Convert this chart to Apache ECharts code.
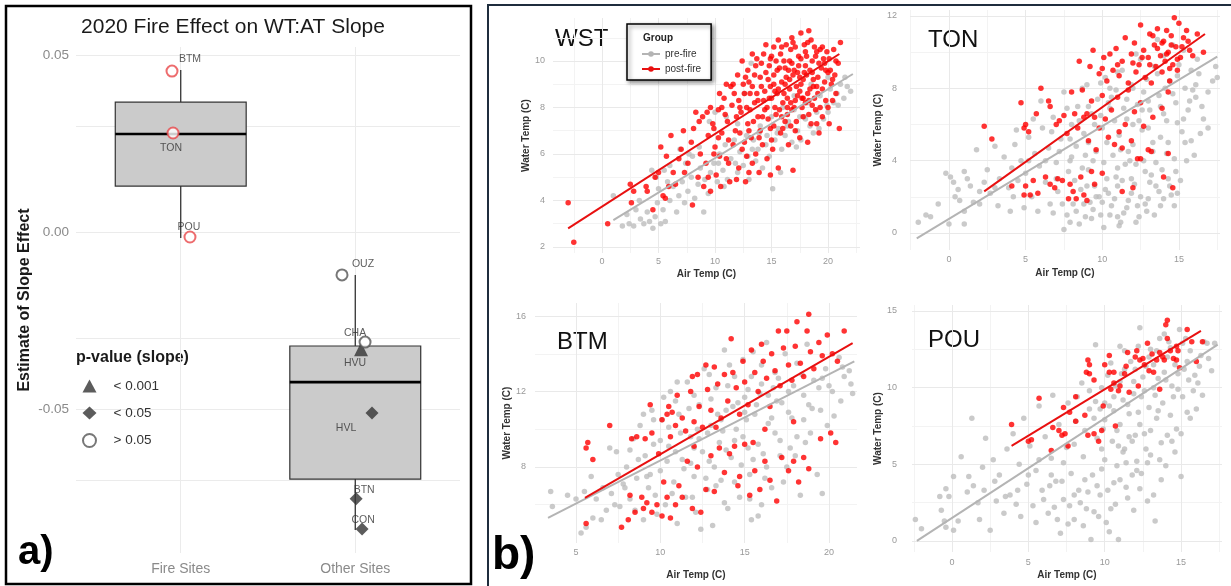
<!DOCTYPE html>
<html>
<head>
<meta charset="utf-8">
<title>2020 Fire Effect on WT:AT Slope</title>
<script src="https://cdn.jsdelivr.net/npm/echarts@6/dist/echarts.min.js"></script>
<style>
  html, body { margin: 0; padding: 0; background: #fff; }
  #main { width: 1231px; height: 586px; }
</style>
</head>
<body>
<div id="main"></div>
<script>
// ---------- a) slope effect per site ----------
const siteNames = ['BTM', 'TON', 'POU', 'OUZ', 'CHA', 'HVU', 'HVL', 'BTN', 'CON'];
const siteFire = [true, true, true, false, false, false, false, false, false];
const siteX = [0.950, 0.956, 1.053, 1.924, 2.056, 2.033, 2.096, 2.005, 2.039]; // jittered group position
const siteSlope = [0.0455, 0.0280, -0.0014, -0.0121, -0.0311, -0.0331, -0.0511, -0.0754, -0.0839];
const siteP = ['> 0.05', '> 0.05', '> 0.05', '> 0.05', '> 0.05', '< 0.001', '< 0.05', '< 0.05', '< 0.05'];

const groupNames = ['Fire Sites', 'Other Sites'];
const boxLow = [-0.0017, -0.0842];
const boxQ1 = [0.0130, -0.0698];
const boxMedian = [0.0277, -0.0424];
const boxQ3 = [0.0367, -0.0322];
const boxHigh = [0.0458, -0.0121];

const slopeTicks = [0.05, 0, -0.05];
const slopeGrid = [0.05, 0.025, 0, -0.025, -0.05, -0.075];
const pClasses = ['< 0.001', '< 0.05', '> 0.05'];

// ---------- b) water vs air temperature ----------
const wstPre = [[1.0,4.2],[1.8,2.9],[2.2,3.4],[2.4,3.0],[2.8,2.9],[3.0,3.6],[3.4,3.2],[3.7,3.0],[4.0,3.5],[4.2,3.1],
  [4.5,2.8],[4.7,3.3],[4.9,3.9],[5.2,3.0],[5.4,3.6],[5.6,3.1],[5.0,4.5],[4.4,5.3],[4.8,5.0],[5.5,5.3],
  [6.0,4.0],[6.3,4.6],[6.6,3.5],[6.8,4.2],[7.1,4.8],[7.3,3.9],[7.6,4.4],[7.9,5.0],[8.2,4.1],[8.5,4.7],
  [8.7,5.4],[9.0,3.5],[9.1,4.9],[9.4,4.3],[9.6,5.2],[6.0,5.5],[6.9,6.2],[7.4,5.6],[8.0,5.9],[8.6,6.3],
  [9.9,5.6],[10.2,4.8],[10.4,6.0],[10.7,5.3],[10.9,6.4],[11.1,4.9],[11.4,5.8],[11.7,6.6],[12.0,5.2],[12.2,6.1],
  [12.5,5.5],[12.8,6.8],[13.0,4.9],[13.3,6.2],[13.6,5.7],[13.9,6.9],[14.2,5.4],[14.5,6.4],[14.8,5.9],[15.1,4.5],
  [15.3,6.6],[10.0,7.8],[9.5,7.4],[11.0,7.6],[12.0,7.3],[13.2,9.9],[12.6,8.6],[15.6,7.1],[15.9,6.2],[16.2,6.8],
  [16.5,7.4],[16.8,6.5],[17.0,7.9],[17.3,7.0],[17.6,6.6],[17.9,7.6],[18.2,8.2],[18.4,7.2],[18.7,6.9],[19.0,7.8],
  [19.3,8.5],[19.6,7.5],[19.9,8.1],[20.2,8.8],[20.5,8.2],[20.8,8.6],[21.1,9.0],[21.4,8.4],[21.7,8.9],[22.0,8.7],
  [20.0,9.3],[18.5,9.0],[17.0,8.5],[16.0,8.0],[15.0,7.6],[14.0,7.2],[10.8,4.6],[11.8,5.6],[12.9,5.9],[13.8,6.2],
  [14.6,6.8],[15.5,6.9],[16.4,7.2],[17.2,6.3],[18.0,7.5],[19.2,7.1],[20.0,7.8],[20.9,8.1],[21.5,9.3],[3.3,4.0],
  [5.8,4.8],[7.7,6.0],[10.3,5.6],[15.8,5.2],[17.5,7.6],[13.4,6.6]];
const wstPost = [[-3.0,3.9],[-2.5,2.2],[0.5,3.0],[2.5,4.7],[2.6,3.9],[2.8,4.4],[3.9,4.6],[4.0,4.4],[4.5,3.6],[4.7,5.0],
  [5.0,5.2],[5.2,6.3],[5.4,4.2],[5.6,4.1],[5.7,5.9],[5.9,4.6],[6.1,6.8],[6.3,5.2],[6.5,4.7],[6.8,5.8],
  [7.0,6.2],[7.2,7.0],[7.3,5.2],[7.6,5.6],[7.9,6.5],[8.0,3.8],[8.1,7.1],[8.3,7.8],[8.5,5.0],[8.7,6.0],
  [8.9,7.6],[9.0,4.6],[9.2,5.6],[9.4,6.8],[9.6,4.4],[9.8,7.3],[10.0,6.3],[10.1,5.1],[10.3,7.9],[10.5,4.6],
  [10.6,6.9],[10.8,8.4],[11.0,5.8],[11.1,7.4],[11.3,4.8],[11.4,8.9],[11.6,6.4],[11.8,7.0],[12.0,9.4],[12.1,5.4],
  [12.3,7.8],[12.4,6.2],[12.6,8.6],[12.7,4.8],[12.9,7.3],[13.0,9.1],[13.2,6.7],[13.3,5.6],[13.5,8.2],[13.6,9.8],
  [13.8,7.6],[13.9,5.2],[14.1,8.9],[14.2,6.4],[14.4,7.9],[14.5,9.5],[14.6,5.8],[14.8,8.4],[14.9,7.1],[15.0,10.2],
  [15.1,6.2],[15.2,9.0],[15.4,7.7],[15.5,8.6],[15.6,5.4],[15.7,9.7],[15.8,6.9],[16.0,8.2],[16.1,10.0],[16.2,7.4],
  [16.3,9.3],[16.5,6.4],[16.6,8.8],[16.7,10.5],[16.8,7.9],[16.9,5.3],[17.0,9.6],[17.1,7.0],[17.3,8.5],[17.4,10.2],
  [17.5,6.7],[17.6,9.0],[17.8,7.6],[17.9,10.7],[18.0,8.2],[18.1,9.4],[18.2,6.5],[18.3,11.3],[18.4,8.8],[18.5,7.3],
  [18.6,10.0],[18.7,9.2],[18.9,7.9],[19.0,10.4],[19.1,8.6],[19.2,6.9],[19.4,9.7],[19.5,7.6],[19.6,10.1],[19.8,8.3],
  [20.0,9.5],[20.1,7.3],[20.3,9.0],[20.5,10.5],[20.7,8.6],[21.0,7.1],[21.1,10.8],[20.9,9.9],[19.3,8.0],[18.8,8.4],
  [17.7,8.0],[16.4,8.4],[15.3,8.0],[14.3,8.3],[13.4,7.4],[12.2,6.9],[11.2,6.6],[10.4,5.9],[13.1,8.6],[14.7,9.2],
  [16.9,9.4],[18.0,9.8],[17.2,8.9],[15.9,7.6],[14.0,7.0],[12.8,8.0],[11.5,8.1],[10.9,7.7],[9.9,6.0],[9.3,7.8],
  [8.6,7.4],[15.2,10.6],[16.6,10.0],[19.7,9.1],[18.6,8.1],[17.5,9.3],[16.2,9.0],[14.9,8.9],[12.5,9.0],[12.9,9.6],
  [13.3,8.9],[13.7,8.6],[13.7,10.1],[14.0,9.3],[14.3,10.3],[14.6,8.0],[14.8,9.8],[15.0,8.4],[15.2,9.4],[15.4,10.0],
  [15.6,8.8],[15.8,10.3],[15.9,9.1],[16.1,8.6],[16.3,10.7],[16.5,9.6],[16.7,8.2],[16.8,9.9],[17.0,8.0],[17.1,10.6],
  [17.3,9.5],[17.5,8.7],[17.6,10.1],[17.8,9.2],[18.0,10.4],[18.2,8.6],[18.4,9.6],[18.5,10.9],[18.7,8.9],[18.9,10.2],
  [19.1,9.3],[19.3,10.5],[19.5,8.8],[19.7,9.9],[19.9,10.4],[20.2,9.6],[20.4,8.3],[20.6,9.4],[16.0,7.1],[17.2,7.4],
  [18.3,7.7],[15.0,6.6],[14.2,7.6],[13.0,7.0],[11.9,7.6],[12.6,6.5],[19.0,7.3],[20.0,8.0],[16.4,7.7],[17.8,8.4],
  [13.6,6.0],[14.9,5.1],[11.6,9.0],[10.6,8.0],[9.6,8.0],[12.1,8.3],[11.9,4.9],[13.0,5.2],[12.2,8.0],[12.7,9.3],
  [13.1,7.9],[13.5,9.4],[13.8,8.3],[14.1,9.9],[14.4,8.7],[14.7,7.5],[14.9,10.1],[15.3,8.7],[15.5,9.6],[15.7,7.9],
  [15.9,10.6],[16.2,9.7],[16.4,8.0],[16.6,9.2],[16.9,10.8],[17.1,8.3],[17.4,9.8],[17.7,8.4],[17.9,9.5],[18.1,10.2],
  [18.3,8.3],[18.6,9.5],[18.8,10.6],[19.0,8.9],[19.2,9.9],[19.5,10.6],[19.8,9.6],[20.1,10.1],[20.4,9.2],[20.7,10.0],
  [13.9,6.7],[15.2,7.2],[16.7,7.2],[12.8,5.9],[11.2,5.6],[10.3,6.7],[11.7,8.6],[12.4,10.0],[13.3,10.3],[14.5,10.7],
  [15.6,10.9],[16.8,11.0],[17.6,11.2],[18.2,10.8],[11.0,9.0],[10.4,8.6],[9.9,7.1],[9.4,5.0]];
const wstPreFit = [[1.0,3.15],[22.2,9.44]];
const wstPostFit = [[-3.0,2.8],[21.0,10.3]];

const tonPre = [[-2.0,0.6],[-1.5,1.0],[-1.2,0.9],[-0.7,1.6],[-0.2,3.3],[0.0,0.5],[0.1,3.1],[0.3,2.8],[0.4,2.0],[0.6,2.4],
  [0.7,1.8],[1.0,0.5],[1.0,3.4],[1.2,3.0],[1.4,2.6],[1.6,1.7],[1.8,4.6],[2.0,1.6],[2.3,2.8],[2.5,3.5],
  [2.7,2.2],[3.0,4.8],[3.2,1.5],[3.3,3.0],[3.6,4.2],[3.9,2.5],[4.0,1.2],[4.1,3.6],[4.3,4.9],[4.5,2.9],
  [4.7,4.0],[4.9,1.4],[5.0,3.3],[5.2,5.3],[5.4,2.0],[5.6,4.4],[5.8,1.2],[5.9,3.7],[6.1,5.8],[6.3,2.8],
  [6.5,4.7],[6.6,1.6],[6.8,6.4],[7.0,3.9],[7.1,2.3],[7.3,5.2],[7.5,0.2],[7.5,7.8],[7.7,1.0],[7.8,3.4],
  [8.0,6.0],[8.1,1.6],[8.3,4.8],[8.4,7.0],[8.6,2.4],[8.8,5.5],[8.9,0.9],[9.0,8.2],[9.1,3.5],[9.3,6.6],
  [9.4,1.3],[9.6,4.5],[9.7,7.4],[9.8,2.0],[10.0,5.8],[10.1,0.3],[10.2,8.6],[10.3,3.0],[10.5,6.9],[10.6,1.5],
  [10.7,4.3],[10.9,7.9],[11.0,2.6],[11.1,5.4],[11.2,0.6],[11.3,9.0],[11.5,3.8],[11.6,6.3],[11.7,1.8],[11.9,8.2],
  [12.0,4.9],[12.1,2.7],[12.3,7.1],[12.4,0.9],[12.5,9.6],[12.6,5.7],[12.8,3.4],[12.9,8.5],[13.0,1.9],[13.1,6.8],
  [13.3,4.5],[13.4,9.2],[13.5,2.6],[13.7,7.6],[13.8,5.3],[13.9,3.5],[14.0,9.8],[14.2,6.2],[14.4,8.4],[14.5,2.1],
  [14.7,4.1],[14.8,7.2],[15.0,9.3],[15.2,5.6],[15.4,8.0],[15.6,6.8],[15.8,9.0],[16.0,4.3],[16.1,7.5],[16.3,8.8],
  [16.6,6.3],[16.9,7.8],[17.2,8.4],[17.5,8.6],[16.2,9.6],[15.3,10.1],[14.6,10.4],[13.6,10.7],[12.2,9.9],[11.0,8.9],
  [9.9,8.3],[8.7,8.0],[7.7,6.9],[6.7,5.6],[5.5,6.3],[4.4,5.7],[6.0,7.3],[9.5,6.0],[10.8,6.2],[12.7,7.8],
  [14.1,8.0],[11.8,4.0],[13.2,3.2],[10.4,2.2],[9.2,1.7],[8.2,2.9],[12.9,1.2],[14.3,3.0],[11.4,1.1],[15.1,2.9],
  [15.5,4.0],[14.9,2.2],[7.2,4.5],[7.9,5.2],[8.5,6.2],[8.7,3.6],[9.1,7.0],[9.4,4.0],[9.9,6.5],[10.3,5.0],
  [10.6,7.5],[11.0,3.6],[11.4,6.9],[11.7,4.5],[12.0,8.0],[12.4,6.2],[12.7,4.0],[13.0,7.3],[13.3,5.0],[13.6,8.8],
  [14.0,6.6],[14.3,5.0],[14.6,7.7],[14.9,8.7],[15.3,6.3],[15.7,7.3],[16.1,8.2],[16.5,7.0],[13.8,1.5],[12.3,1.5],
  [11.0,0.9],[10.0,1.7],[9.5,2.6],[10.9,3.1],[11.9,3.0],[13.5,3.9],[14.8,3.4],[15.8,5.1],[16.9,5.8],[17.4,9.2],
  [12.0,6.0],[10.5,8.0],[7.4,1.6],[7.9,0.6],[8.3,1.2],[8.5,0.5],[8.8,1.6],[9.0,2.6],[9.3,0.8],[9.6,2.0],
  [9.9,1.0],[10.2,2.4],[10.5,1.0],[10.8,1.9],[11.1,0.4],[11.3,2.9],[11.6,1.4],[11.9,2.2],[12.2,0.6],[12.5,2.0],
  [12.8,1.6],[13.1,2.8],[13.4,1.0],[13.7,2.3],[14.0,1.9],[14.4,2.6],[14.7,1.5],[6.8,1.1],[7.0,3.0],[8.0,4.2],
  [8.9,4.3],[10.1,3.9],[11.2,4.6],[12.2,3.8],[13.0,5.8],[14.2,4.4],[15.4,5.0],[16.4,5.5],[15.9,7.9],[14.9,6.1],
  [13.8,7.0],[12.6,6.8],[11.6,7.4],[10.4,7.2],[9.1,5.0],[7.9,4.0],[6.3,4.0],[5.2,4.0],[4.2,2.0],[3.0,2.5],
  [2.0,2.3],[1.0,1.2]];
const tonPost = [[9.4,10.1],[9.8,8.8],[10.1,9.7],[10.3,8.4],[10.5,9.9],[10.7,9.0],[10.9,10.2],[11.1,8.7],[11.3,9.5],[11.5,10.8],
  [11.7,8.3],[11.9,9.9],[12.1,10.5],[12.2,8.9],[12.4,9.3],[12.5,11.5],[12.7,10.1],[12.8,8.6],[13.0,9.7],[13.1,11.0],
  [13.2,8.3],[13.4,10.4],[13.5,9.2],[13.6,11.3],[13.8,9.8],[13.9,8.9],[14.0,10.6],[14.1,9.5],[14.2,11.2],[14.3,10.0],
  [14.4,8.4],[14.5,10.9],[14.6,9.3],[14.7,11.9],[14.8,10.3],[15.0,11.6],[15.1,9.7],[15.3,10.8],[15.5,11.2],[15.7,10.1],
  [15.9,9.8],[16.2,11.0],[16.6,10.0],[13.3,10.9],[12.0,9.4],[11.0,9.3],[10.0,9.1],[8.5,9.5],[9.2,9.2],[14.9,9.0],
  [4.7,7.2],[6.0,8.0],[6.5,7.3],[6.6,7.0],[7.0,6.0],[7.2,6.2],[7.5,6.5],[7.7,5.5],[8.0,7.8],[8.2,6.6],
  [8.4,5.8],[8.7,7.9],[8.8,6.4],[9.0,6.6],[9.1,5.1],[9.3,7.3],[9.5,6.4],[9.6,4.6],[9.8,5.8],[10.0,7.6],
  [10.2,6.3],[10.4,5.3],[10.6,6.8],[10.8,4.9],[11.0,7.5],[11.1,5.6],[11.3,4.7],[11.5,6.0],[11.7,7.9],[11.9,5.1],
  [12.1,6.7],[12.3,4.1],[12.5,7.2],[12.7,5.9],[13.0,4.6],[13.3,6.4],[13.9,6.9],[14.3,7.8],[5.0,6.0],[5.2,5.6],
  [5.7,6.6],[4.9,5.8],[2.3,5.9],[2.8,5.2],[4.1,2.6],[4.9,2.1],[5.0,2.6],[5.3,2.1],[5.5,2.9],[5.8,2.2],
  [6.3,3.1],[6.6,2.7],[6.9,2.5],[7.1,3.0],[7.4,2.9],[7.8,1.9],[7.9,2.7],[8.1,2.3],[8.3,1.9],[8.6,3.1],
  [8.8,2.1],[9.0,1.8],[9.3,3.4],[9.5,2.7],[11.3,2.3],[12.0,2.5],[12.5,4.1],[13.2,4.5],[14.0,3.1],[14.3,4.4],
  [14.6,2.5],[10.0,3.3],[13.6,10.2],[14.2,9.9],[14.5,10.4],[13.9,10.5],[15.2,10.3],[14.9,9.6],[13.1,9.3],[12.6,9.7],
  [14.4,9.1],[15.6,10.6]];
const tonPreFit = [[-2.1,-0.3],[17.5,9.75]];
const tonPostFit = [[2.3,2.3],[16.7,11.0]];

const btmPre = [[3.5,6.7],[3.6,5.9],[4.5,6.5],[5.0,6.3],[5.3,4.5],[5.5,6.7],[5.6,4.8],[5.9,7.5],[6.2,6.3],[6.5,5.2],
  [6.8,5.7],[7.0,9.0],[7.1,6.6],[7.4,8.8],[7.6,5.9],[7.8,7.1],[8.0,8.0],[8.2,6.3],[8.4,9.5],[8.6,7.4],
  [8.8,10.2],[9.0,5.2],[9.1,8.6],[9.3,6.9],[9.5,11.0],[9.6,9.2],[9.8,5.5],[10.0,7.8],[10.1,10.5],[10.3,6.0],
  [10.5,9.1],[10.6,12.0],[10.8,7.2],[11.0,5.0],[11.1,10.8],[11.3,8.4],[11.5,6.4],[11.6,12.5],[11.8,9.6],[12.0,7.5],
  [12.1,5.6],[12.3,11.3],[12.5,8.8],[12.6,13.2],[12.8,6.8],[13.0,10.2],[13.1,4.9],[13.3,12.2],[13.5,9.3],[13.6,7.3],
  [13.8,14.2],[13.9,11.0],[14.0,5.8],[14.2,8.5],[14.4,12.8],[14.5,10.0],[14.7,6.4],[14.9,13.7],[15.0,11.7],[15.2,9.0],
  [15.3,7.6],[15.5,14.1],[15.6,10.8],[15.8,5.4],[16.0,12.4],[16.1,8.7],[16.3,14.6],[16.4,10.3],[16.6,6.9],[16.8,13.0],
  [16.9,11.5],[17.1,9.4],[17.3,7.2],[17.4,14.0],[17.6,12.0],[17.8,10.6],[18.0,8.6],[18.1,13.5],[18.3,6.5],[18.5,11.8],
  [18.7,14.5],[18.9,9.8],[19.1,12.6],[19.3,7.6],[19.5,11.0],[19.6,6.6],[19.8,13.2],[20.0,12.3],[20.3,10.7],[20.6,13.8],
  [20.9,12.8],[21.2,13.1],[21.4,11.9],[10.9,11.5],[12.2,10.0],[13.4,10.8],[14.6,11.4],[15.9,11.9],[17.0,12.7],[18.4,12.9],
  [14.1,13.4],[15.4,12.8],[16.7,12.2],[11.7,11.1],[13.7,9.9],[15.1,10.5],[12.9,12.9],[14.8,8.1],[16.2,7.4],[11.2,9.8],
  [10.2,11.7],[9.0,10.8],[12.0,9.0],[12.8,9.8],[13.6,10.5],[14.3,11.2],[15.0,10.9],[15.7,11.3],[16.4,11.8],[17.2,11.4],
  [17.9,12.3],[18.8,11.3],[19.6,12.7],[14.4,9.4],[15.5,8.4],[16.8,9.8],[17.7,9.0],[13.2,8.0],[12.7,7.4],[11.9,6.4],
  [10.9,8.8],[10.0,9.4],[9.4,7.6],[8.7,8.4],[16.0,6.0],[17.5,8.0],[18.6,9.3],[19.9,10.2],[20.7,11.5],[12.4,4.7],
  [13.8,6.1],[15.4,5.2],[6.0,5.3],[6.6,6.9],[7.3,6.0],[7.9,6.9],[8.5,5.7],[9.2,7.5],[9.7,6.5],[10.4,8.3],
  [10.7,6.6],[11.4,7.9],[11.8,8.2],[12.3,9.5],[12.9,8.3],[13.3,7.0],[13.9,8.9],[14.4,7.2],[14.9,9.6],[15.3,6.3],
  [15.8,9.2],[16.3,8.0],[16.6,10.6],[17.1,8.6],[17.6,10.9],[18.1,9.6],[18.5,10.5],[19.0,11.1],[19.4,12.2],[20.2,12.0],
  [20.8,13.3],[21.3,12.4],[16.0,13.4],[15.2,12.1],[14.0,12.3],[13.0,11.6],[12.0,11.8],[11.0,12.5],[10.5,10.1],[9.6,10.5],
  [8.2,8.9],[7.5,7.6]];
const btmPost = [[7.0,10.2],[9.1,9.5],[9.4,11.3],[9.5,9.8],[9.9,8.7],[10.1,10.5],[10.4,10.8],[10.5,11.2],[10.6,9.6],[10.9,10.2],
  [11.0,11.8],[11.3,10.6],[11.5,9.9],[11.8,12.0],[12.0,10.4],[12.2,12.9],[12.3,11.2],[12.5,10.1],[12.7,13.4],[12.8,12.1],
  [13.0,11.0],[13.2,13.3],[13.4,12.4],[13.6,10.6],[13.8,12.9],[14.0,11.5],[14.2,14.8],[14.3,13.0],[14.5,12.2],[14.7,10.8],
  [14.9,13.6],[15.0,12.5],[15.2,11.3],[15.4,14.2],[15.6,13.0],[15.8,12.0],[16.0,14.5],[16.1,13.6],[16.3,12.7],[16.5,11.2],
  [16.6,14.0],[16.8,13.1],[17.0,15.2],[17.1,12.3],[17.3,14.3],[17.5,15.2],[17.6,13.4],[17.8,12.6],[18.0,14.4],[18.1,15.7],
  [18.3,13.5],[18.5,12.8],[18.7,15.2],[18.8,16.1],[18.9,14.1],[19.1,13.2],[19.4,14.6],[19.6,13.9],[19.9,15.0],[20.2,14.0],
  [20.5,13.6],[20.9,15.2],[17.9,10.4],[16.2,10.0],[15.5,9.3],[19.5,9.5],[20.1,9.8],[20.4,9.3],[8.6,9.6],[11.9,12.8],
  [13.3,10.1],[10.7,10.9],[5.6,5.0],[5.6,9.0],[5.7,9.3],[6.0,8.4],[7.7,4.8],[8.1,5.2],[8.2,6.5],[8.3,9.5],
  [8.5,5.6],[8.9,6.4],[9.0,5.8],[9.2,6.1],[9.5,5.6],[9.8,6.0],[10.1,5.4],[10.4,6.4],[10.6,5.3],[10.9,6.0],
  [11.1,7.0],[11.3,6.4],[11.6,8.3],[11.9,5.8],[12.2,8.0],[12.4,5.6],[12.7,6.8],[13.0,8.6],[13.2,6.7],[13.5,9.0],
  [13.8,7.7],[14.1,8.7],[14.4,9.1],[14.7,7.5],[15.0,9.2],[15.3,6.5],[15.6,7.8],[15.9,6.8],[16.2,8.3],[16.5,7.3],
  [16.9,6.2],[17.2,8.5],[17.6,7.8],[17.9,8.3],[18.2,7.2],[18.5,8.5],[18.8,7.9],[14.6,7.0],[12.0,9.1],[10.2,7.2]];
const btmPreFit = [[3.34,5.3],[21.5,13.6]];
const btmPostFit = [[5.53,6.36],[21.4,14.56]];

const pouPre = [[-2.4,1.4],[-2.0,0.8],[-0.8,2.9],[-0.7,2.0],[-0.5,1.3],[-0.4,0.9],[-0.4,3.4],[-0.2,2.9],[0.1,4.2],[0.1,0.7],
  [0.4,1.3],[0.6,5.5],[1.0,3.2],[1.1,4.2],[1.3,8.0],[1.4,3.6],[1.7,2.5],[1.8,1.4],[2.0,4.8],[2.1,3.3],
  [2.2,6.7],[2.5,0.7],[2.7,5.3],[2.9,2.6],[3.1,4.3],[3.4,1.8],[3.6,6.0],[3.8,3.0],[4.0,7.0],[4.2,2.4],
  [4.4,5.0],[4.5,1.6],[4.7,8.0],[4.9,3.7],[5.1,6.2],[5.3,2.3],[5.5,4.6],[5.7,8.8],[5.9,3.3],[6.1,6.8],
  [6.3,1.8],[6.5,5.4],[6.6,9.5],[6.8,3.9],[7.0,7.6],[7.1,0.5],[7.3,2.7],[7.5,6.1],[7.6,9.0],[7.8,4.4],
  [8.0,1.4],[8.1,7.8],[8.3,3.3],[8.5,10.3],[8.6,5.5],[8.8,2.1],[9.0,8.6],[9.1,0.1],[9.2,4.3],[9.4,12.8],
  [9.5,6.7],[9.7,3.0],[9.8,10.0],[10.0,5.3],[10.1,1.2],[10.3,8.8],[10.4,11.6],[10.6,3.8],[10.8,7.2],[10.9,0.1],
  [11.0,10.4],[11.2,5.8],[11.3,12.4],[11.5,2.8],[11.6,8.3],[11.8,6.5],[12.0,11.2],[12.1,4.6],[12.3,13.9],[12.4,9.4],
  [12.6,7.0],[12.8,2.6],[12.9,12.0],[13.0,5.6],[13.2,10.0],[13.4,8.0],[13.6,13.2],[13.7,4.0],[13.9,11.0],[14.1,6.9],
  [14.3,12.6],[14.5,9.4],[14.7,7.3],[14.9,13.8],[15.0,4.2],[15.2,11.2],[15.4,8.4],[15.6,12.4],[15.8,9.8],[16.0,8.6],
  [16.2,11.4],[16.5,13.0],[16.8,11.9],[17.2,12.9],[14.0,10.5],[12.5,10.7],[11.2,9.2],[10.0,9.0],[9.3,8.0],[8.2,9.4],
  [13.0,12.5],[14.6,11.5],[15.5,10.5],[11.7,11.7],[10.7,10.1],[13.3,9.5],[12.2,8.4],[11.0,7.6],[12.7,6.0],[9.8,6.0],
  [8.7,4.0],[10.4,2.1],[11.4,3.5],[7.7,2.3],[6.9,1.4],[9.6,1.6],[9.0,9.8],[9.7,8.6],[10.2,10.8],[10.6,9.4],
  [11.1,10.9],[11.5,8.9],[11.9,10.4],[12.2,12.7],[12.6,9.8],[12.9,8.7],[13.2,11.5],[13.5,10.6],[13.8,9.0],[14.1,12.0],
  [14.4,10.1],[14.8,10.9],[15.1,12.9],[15.4,11.7],[15.9,10.8],[16.3,12.1],[13.0,7.2],[12.0,6.9],[11.3,6.0],[10.5,6.5],
  [9.9,7.3],[13.7,6.4],[14.3,8.2],[15.1,9.4],[11.8,4.3],[12.3,3.4],[10.8,4.9],[9.5,3.6],[10.3,0.6],[8.6,1.0],
  [13.3,1.3],[12.1,5.2],[14.6,5.8],[16.4,9.5],[13.9,13.5],[11.0,12.7],[5.5,1.2],[6.0,2.7],[6.4,3.6],[6.7,2.2],
  [7.2,3.9],[7.6,1.1],[8.0,3.0],[8.4,2.5],[8.9,3.2],[9.3,1.9],[9.8,4.7],[10.2,3.3],[10.7,2.4],[11.0,4.0],
  [11.4,5.1],[11.9,2.0],[12.4,4.4],[12.8,5.1],[13.2,3.0],[13.6,5.3],[14.0,4.9],[14.4,6.5],[15.0,7.0],[15.6,8.0],
  [16.1,10.3],[16.7,12.9],[17.0,11.1],[15.3,13.2],[14.2,13.0],[13.4,12.4],[12.7,11.4],[11.9,9.6],[11.3,11.2],[10.6,8.5],
  [10.0,7.9],[9.4,9.1],[8.7,7.2],[8.0,6.3],[7.3,5.1],[6.5,4.3],[5.7,5.3],[5.0,4.3],[4.3,3.3],[3.5,2.9],
  [2.8,3.9],[13.5,8.5],[14.8,9.9],[12.3,7.6],[11.6,6.8],[10.9,6.2]];
const pouPost = [[3.9,7.6],[5.0,6.5],[5.2,6.6],[5.7,9.3],[6.5,5.9],[6.6,7.4],[7.0,7.2],[7.2,6.9],[7.3,8.7],[7.4,7.0],
  [7.6,6.2],[7.7,8.4],[8.1,9.4],[8.1,7.8],[8.7,8.2],[8.8,11.0],[8.9,11.8],[8.9,6.9],[9.0,11.5],[9.0,10.9],
  [9.3,10.5],[9.3,7.0],[9.6,6.5],[9.8,7.2],[9.9,8.8],[10.0,11.5],[10.3,12.1],[10.3,11.0],[10.6,11.0],[10.6,10.3],
  [10.7,7.5],[10.9,9.8],[11.0,10.1],[11.3,10.9],[11.4,11.4],[11.5,12.3],[11.6,9.7],[12.1,12.4],[12.2,10.1],[12.3,11.8],
  [12.5,11.9],[12.6,11.5],[12.8,12.9],[12.9,11.1],[13.1,12.2],[13.2,11.0],[13.4,11.8],[13.6,12.3],[13.6,9.9],[13.8,12.0],
  [13.9,11.8],[14.0,14.1],[14.1,14.4],[14.1,13.2],[14.3,12.4],[14.5,11.9],[14.7,11.8],[14.7,12.7],[14.8,12.4],[14.9,11.3],
  [15.4,13.8],[15.7,13.0],[16.4,13.0],[16.0,11.7],[12.0,12.0],[10.4,9.9]];
const pouPreFit = [[-2.3,0.0],[17.4,12.8]];
const pouPostFit = [[3.9,6.2],[16.3,13.7]];

// tick labels (major) and the extra minor grid lines for each temperature panel
const wstXTicks = [0, 5, 10, 15, 20], wstXMinor = [-2.5, 2.5, 7.5, 12.5, 17.5, 22.5];
const wstYTicks = [2, 4, 6, 8, 10], wstYMinor = [3, 5, 7, 9, 11];
const tonXTicks = [0, 5, 10, 15], tonXMinor = [-2.5, 2.5, 7.5, 12.5, 17.5];
const tonYTicks = [0, 4, 8, 12], tonYMinor = [2, 6, 10];
const btmXTicks = [5, 10, 15, 20], btmXMinor = [7.5, 12.5, 17.5];
const btmYTicks = [8, 12, 16], btmYMinor = [6, 10, 14];
const pouXTicks = [0, 5, 10, 15], pouXMinor = [-2.5, 2.5, 7.5, 12.5, 17.5];
const pouYTicks = [0, 5, 10, 15], pouYMinor = [2.5, 7.5, 12.5];

const FONT = 'Liberation Sans';
const chart = echarts.init(document.getElementById('main'));

// layout of the four temperature panels (pixels) and their axis ranges
const panels = [
  { key: 'WST', pre: wstPre, post: wstPost, preFit: wstPreFit, postFit: wstPostFit,
    xt: wstXTicks, xm: wstXMinor, yt: wstYTicks, ym: wstYMinor,
    grid: { left: 553, top: 18, width: 307, height: 235 }, x: [-4.34, 22.83], y: [1.74, 11.85],
    xGap: 16, yGap: 16, xMargin: 4, yMargin: 8, title: [555, 39] },
  { key: 'TON', pre: tonPre, post: tonPost, preFit: tonPreFit, postFit: tonPostFit,
    xt: tonXTicks, xm: tonXMinor, yt: tonYTicks, ym: tonYMinor,
    grid: { left: 910, top: 10, width: 310, height: 240 }, x: [-2.54, 17.68], y: [-0.94, 12.33],
    xGap: 18, yGap: 26, xMargin: 5, yMargin: 13, title: [928, 40] },
  { key: 'BTM', pre: btmPre, post: btmPost, preFit: btmPreFit, postFit: btmPostFit,
    xt: btmXTicks, xm: btmXMinor, yt: btmYTicks, ym: btmYMinor,
    grid: { left: 535, top: 303, width: 322, height: 240 }, x: [2.57, 21.66], y: [3.97, 16.69],
    xGap: 27, yGap: 21, xMargin: 5, yMargin: 9, title: [557, 342] },
  { key: 'POU', pre: pouPre, post: pouPost, preFit: pouPreFit, postFit: pouPostFit,
    xt: pouXTicks, xm: pouXMinor, yt: pouYTicks, ym: pouYMinor,
    grid: { left: 912, top: 305, width: 310, height: 247 }, x: [-2.62, 17.68], y: [-0.72, 15.39],
    xGap: 18, yGap: 28, xMargin: 6, yMargin: 15, title: [928, 340] }
];

// where each site label sits relative to its point (px)
const labelOffset = {
  BTM: [18, -12], TON: [-2, 15], POU: [-1, -10], OUZ: [21, -11], CHA: [-10, -9],
  HVU: [-6, 14], HVL: [-26, 15], BTN: [8, -9], CON: [1, -9]
};
const pSymbol = { '< 0.001': 'triangle', '< 0.05': 'diamond', '> 0.05': 'emptyCircle' };
const pSize = { '< 0.001': 14, '< 0.05': 13, '> 0.05': 11 };

const grids = [{ left: 76, top: 47, width: 384, height: 506 }];
const xAxes = [{
  type: 'value', gridIndex: 0, min: 0.4, max: 2.6,
  axisLine: { show: false }, axisTick: { show: false }, splitLine: { show: false },
  axisLabel: { customValues: [1, 2], formatter: (v) => groupNames[Math.round(v) - 1] || '',
    color: '#8a8a8a', fontSize: 14, margin: 9 }
}];
const yAxes = [{
  type: 'value', gridIndex: 0, min: -0.0907, max: 0.0523,
  name: 'Estimate of Slope Effect', nameLocation: 'middle', nameGap: 43,
  nameTextStyle: { fontSize: 16, fontWeight: 'bold', color: '#1a1a1a' },
  axisLine: { show: false }, axisTick: { show: false }, splitLine: { show: false },
  axisLabel: { customValues: slopeTicks, formatter: (v) => v.toFixed(2), color: '#8a8a8a', fontSize: 13.5, margin: 7 }
}];

const series = [];

// grid lines of panel a), kept under everything else
series.push({
  type: 'line', xAxisIndex: 0, yAxisIndex: 0, data: [], z: 0, silent: true,
  markLine: {
    silent: true, symbol: 'none', label: { show: false }, animation: false, z: 0,
    lineStyle: { color: '#ebebeb', width: 1, type: 'solid' },
    data: [1, 2].map((v) => ({ xAxis: v })).concat(slopeGrid.map((v) => ({ yAxis: v })))
  }
});

function renderBox(params, api) {
  const x = api.value(0);
  const pLow = api.coord([x, api.value(1)]);
  const pQ1 = api.coord([x, api.value(2)]);
  const pMed = api.coord([x, api.value(3)]);
  const pQ3 = api.coord([x, api.value(4)]);
  const pHigh = api.coord([x, api.value(5)]);
  const half = api.size([0.75, 0])[0] / 2;
  const whisker = { stroke: '#333', lineWidth: 1.3 };
  return {
    type: 'group',
    children: [
      { type: 'line', shape: { x1: pLow[0], y1: pLow[1], x2: pQ1[0], y2: pQ1[1] }, style: whisker },
      { type: 'line', shape: { x1: pQ3[0], y1: pQ3[1], x2: pHigh[0], y2: pHigh[1] }, style: whisker },
      { type: 'rect', shape: { x: pQ3[0] - half, y: pQ3[1], width: half * 2, height: pQ1[1] - pQ3[1] },
        style: { fill: '#cbcbcb', stroke: '#333', lineWidth: 1.2 } },
      { type: 'line', shape: { x1: pMed[0] - half, y1: pMed[1], x2: pMed[0] + half, y2: pMed[1] },
        style: { stroke: '#000', lineWidth: 2.6 } }
    ]
  };
}

series.push({
  type: 'custom', name: 'box', xAxisIndex: 0, yAxisIndex: 0, z: 2, silent: true,
  renderItem: renderBox,
  encode: { x: 0, y: [1, 2, 3, 4, 5] },
  data: groupNames.map((g, i) => [i + 1, boxLow[i], boxQ1[i], boxMedian[i], boxQ3[i], boxHigh[i]])
});

pClasses.forEach((pc) => {
  const items = [];
  siteNames.forEach((s, i) => {
    if (siteP[i] !== pc) return;
    const item = { name: s, value: [siteX[i], siteSlope[i]], label: { offset: labelOffset[s] } };
    if (siteFire[i]) item.itemStyle = { color: '#e8474a' };
    items.push(item);
  });
  series.push({
    type: 'scatter', name: pc, xAxisIndex: 0, yAxisIndex: 0, z: 5,
    symbol: pSymbol[pc], symbolSize: pSize[pc],
    itemStyle: pc === '> 0.05' ? { color: '#555', borderWidth: 1.3 } : { color: '#333' },
    label: { show: true, position: 'inside', formatter: '{b}', fontSize: 10.5, color: '#333' },
    data: items
  });
});

// ---- the four temperature panels ----
panels.forEach((p, k) => {
  const gi = k + 1;
  grids.push(p.grid);
  xAxes.push({
    type: 'value', gridIndex: gi, min: p.x[0], max: p.x[1],
    name: 'Air Temp (C)', nameLocation: 'middle', nameGap: p.xGap,
    nameTextStyle: { fontSize: 10, fontWeight: 'bold', color: '#333' },
    axisLine: { show: false }, axisTick: { show: false }, splitLine: { show: false },
    axisLabel: { customValues: p.xt, color: '#999', fontSize: 9, margin: p.xMargin }
  });
  yAxes.push({
    type: 'value', gridIndex: gi, min: p.y[0], max: p.y[1],
    name: 'Water Temp (C)', nameLocation: 'middle', nameGap: p.yGap,
    nameTextStyle: { fontSize: 10, fontWeight: 'bold', color: '#333' },
    axisLine: { show: false }, axisTick: { show: false }, splitLine: { show: false },
    axisLabel: { customValues: p.yt, color: '#999', fontSize: 9, margin: p.yMargin }
  });
  const major = { color: '#e9e9e9', width: 1, type: 'solid' };
  const minor = { color: '#f3f3f3', width: 1, type: 'solid' };
  series.push({
    type: 'line', xAxisIndex: gi, yAxisIndex: gi, data: [], z: 0, silent: true,
    markLine: {
      silent: true, symbol: 'none', label: { show: false }, animation: false, z: 0,
      data: [].concat(
        p.xm.map((v) => ({ xAxis: v, lineStyle: minor })),
        p.ym.map((v) => ({ yAxis: v, lineStyle: minor })),
        p.xt.map((v) => ({ xAxis: v, lineStyle: major })),
        p.yt.map((v) => ({ yAxis: v, lineStyle: major }))
      )
    }
  });
  // fitted lines first so the legend picks their icon, drawn above the points via z
  series.push({
    type: 'line', name: 'pre-fire', xAxisIndex: gi, yAxisIndex: gi, z: 4, silent: true,
    data: p.preFit, showSymbol: false, symbol: 'circle', symbolSize: 5,
    itemStyle: { color: '#b4b4b4' }, lineStyle: { color: '#b4b4b4', width: 2 }
  });
  series.push({
    type: 'line', name: 'post-fire', xAxisIndex: gi, yAxisIndex: gi, z: 5, silent: true,
    data: p.postFit, showSymbol: false, symbol: 'circle', symbolSize: 5,
    itemStyle: { color: '#e81010' }, lineStyle: { color: '#e81010', width: 2 }
  });
  series.push({
    type: 'scatter', name: p.key + ' pre', xAxisIndex: gi, yAxisIndex: gi, z: 2, silent: true,
    symbolSize: 5.5, itemStyle: { color: '#bdbdbd' }, data: p.pre
  });
  series.push({
    type: 'scatter', name: p.key + ' post', xAxisIndex: gi, yAxisIndex: gi, z: 3, silent: true,
    symbolSize: 5.5, itemStyle: { color: '#ff0000' }, data: p.post
  });
});

const graphics = [
  { type: 'rect', shape: { x: 6, y: 6, width: 465, height: 578 }, style: { fill: 'none', stroke: '#000', lineWidth: 2.5 }, z: 10 },
  { type: 'rect', shape: { x: 488, y: 5, width: 745, height: 583 }, style: { fill: 'none', stroke: '#1f2d3d', lineWidth: 2 }, z: 10 },
  { type: 'text', x: 233, y: 27, style: { text: '2020 Fire Effect on WT:AT Slope', font: '21px "Liberation Sans"', fill: '#1a1a1a', align: 'center', verticalAlign: 'middle' } },
  { type: 'text', x: 76, y: 358, style: { text: 'p-value (slope)', font: 'bold 16px "Liberation Sans"', fill: '#1a1a1a', verticalAlign: 'middle' } },
  { type: 'text', x: 18, y: 553, style: { text: 'a)', font: 'bold 40px "Liberation Sans"', fill: '#000', verticalAlign: 'middle' } },
  { type: 'text', x: 492, y: 556, style: { text: 'b)', font: 'bold 46px "Liberation Sans"', fill: '#000', verticalAlign: 'middle' } },
  { type: 'text', x: 643, y: 38, z: 20, style: { text: 'Group', font: 'bold 10px "Liberation Sans"', fill: '#222', verticalAlign: 'middle' } }
];
panels.forEach((p) => {
  graphics.push({ type: 'text', x: p.title[0], y: p.title[1],
    style: { text: p.key, font: '24px "Liberation Sans"', fill: '#111', verticalAlign: 'middle' } });
});

chart.setOption({
  animation: false,
  textStyle: { fontFamily: FONT },
  grid: grids,
  xAxis: xAxes,
  yAxis: yAxes,
  legend: [
    {
      data: ['pre-fire', 'post-fire'], left: 627, top: 24, orient: 'vertical', selectedMode: false,
      padding: [25, 10, 6, 14], itemWidth: 18, itemHeight: 7, itemGap: 5,
      textStyle: { fontSize: 10, color: '#333' },
      backgroundColor: '#fff', borderColor: '#000', borderWidth: 1.5,
      shadowBlur: 4, shadowColor: 'rgba(0,0,0,0.45)', shadowOffsetX: 2, shadowOffsetY: 2, z: 15
    },
    {
      data: pClasses, left: 82, top: 379, orient: 'vertical', selectedMode: false, padding: 0,
      itemWidth: 14, itemHeight: 13, itemGap: 13,
      textStyle: { fontSize: 13.5, color: '#333', padding: [0, 0, 0, 12] }
    }
  ],
  graphic: graphics,
  series: series
});
</script>
</body>
</html>
